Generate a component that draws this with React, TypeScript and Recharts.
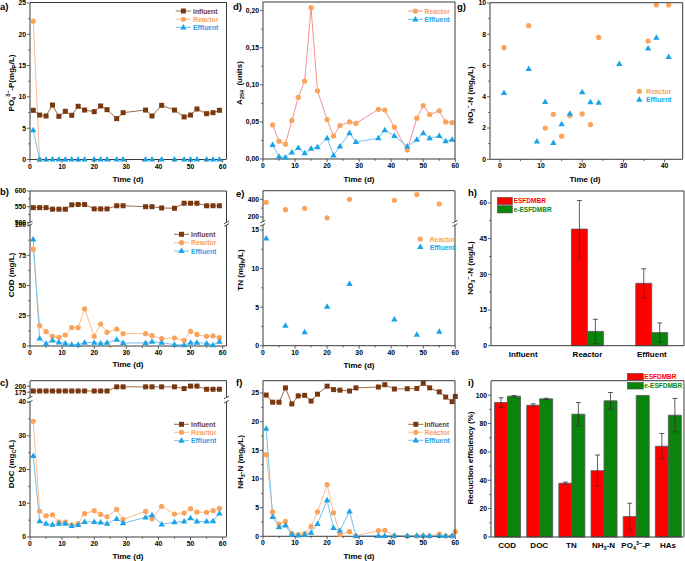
import React from 'react';
import { LineChart, Line, XAxis, YAxis, BarChart, Bar, ErrorBar } from 'recharts';

// ---------------- DATA ----------------
const DAYS = [1, 3, 5, 7, 9, 11, 13, 15, 17, 20, 22, 24, 27, 29, 36, 38, 41, 45, 48, 50, 52, 55, 57, 59];
const DAYS_D = [3, 5, 7, 9, 11, 13, 15, 17, 20, 22, 24, 27, 29, 36, 38, 41, 45, 48, 50, 52, 55, 57, 59];
const DAYS_F = [1, 3, 5, 7, 9, 11, 13, 15, 17, 20, 22, 24, 27, 29, 36, 38, 41, 45, 48, 50, 52, 55, 57, 59, 60];
const DAYS_REA_A = [1, 3];
const DAYS_TN = [1, 7, 13, 20, 27, 41, 48, 55];
const DAYS_G_REA = [1, 7, 11, 13, 15, 17, 20, 22, 24, 36, 38, 41];
const DAYS_G_EFF = [1, 7, 9, 11, 13, 15, 17, 20, 22, 24, 29, 36, 38, 41];

// a) PO4-P
const PO4_INF = [7.86, 7.1, 6.95, 8.7, 6.9, 7.7, 7.06, 8.5, 7.9, 7.64, 8.55, 7.96, 6.53, 7.48, 7.9, 6.95, 8.65, 7.9, 6.8, 7.1, 8.07, 7.32, 7.48, 7.86];
const PO4_REA = [22.1, 0];
const PO4_EFF = [4.7, 0, 0, 0, 0, 0, 0, 0, 0, 0, 0, 0, 0, 0, 0, 0, 0, 0, 0, 0, 0, 0, 0, 0];
// b) COD
const COD_INF = [547, 547, 547, 542, 542, 542, 556, 557, 557, 543, 543, 543, 553, 553, 550, 550, 546, 545, 561, 561, 561, 553, 553, 553];
const COD_REA = [80, 16.8, 11.8, 8, 7.2, 9.1, 15.2, 15.2, 30.6, 8, 18.2, 11.3, 14, 10.2, 10.2, 8.5, 6.1, 6.6, 4.7, 12.1, 9.6, 8, 8.3, 6.9];
const COD_EFF = [88, 6.3, 1.9, 4.7, 3, 2.2, 1.1, 1.1, 2.8, 2.8, 2.2, 2.8, 5.2, 2.5, 2.5, 3.6, 2.8, 1.1, 0.8, 2.8, 2.8, 2.2, 0.8, 3.6];
// c) DOC
const DOC_INF = [180, 180, 180, 180, 180, 180, 180, 180, 180, 180, 180, 180, 197, 197, 197, 197, 197, 197, 190, 200, 200, 187, 187, 187];
const DOC_REA = [34.3, 7.7, 6.3, 6.6, 4.4, 4.4, 3.6, 4.0, 6.9, 7.8, 6.7, 6.0, 8.2, 5.2, 7.6, 5.4, 9.1, 6.8, 7.1, 8.4, 7.4, 7.3, 7.8, 8.5];
const DOC_EFF = [24.0, 4.7, 3.95, 3.65, 3.95, 3.95, 3.26, 3.56, 4.5, 4.5, 4.35, 3.95, 5.4, 4.1, 5.8, 6.5, 3.75, 4.4, 4.6, 5.6, 4.6, 4.6, 4.7, 7.0];
// d) A254
const A254_REA = [0.046, 0.024, 0.020, 0.052, 0.083, 0.105, 0.204, 0.092, 0.053, 0.031, 0.045, 0.050, 0.048, 0.067, 0.066, 0.043, 0.012, 0.055, 0.072, 0.060, 0.065, 0.050, 0.049];
const A254_EFF = [0.019, 0.003, 0.002, 0.009, 0.015, 0.008, 0.014, 0.016, 0.028, 0.005, 0.017, 0.035, 0.023, 0.028, 0.039, 0.031, 0.017, 0.026, 0.035, 0.028, 0.031, 0.024, 0.026];
// e) TN
const TN_REA = [366, 283, 298, 190, 400, 389, 453, 347];
const TN_EFF = [13.9, 2.6, 1.77, 5.06, 8.0, 3.4, 1.43, 1.82];
// f) NH3-N
const NH3_INF = [24.65, 23.4, 23.4, 25.9, 23.1, 24.5, 24.6, 23.6, 24.8, 26.2, 25.6, 25.5, 25.35, 25.9, 26.05, 26.45, 25.7, 25.75, 25.8, 26.7, 25.9, 25.2, 24.3, 23.5, 24.4];
const NH3_REA = [14.25, 4.25, 2.15, 2.6, 0.45, 0.3, 0.45, 1.7, 4.25, 9.0, 4.1, 0.3, 0.8, 0.05, 1.0, 1.05, 0.05, 0, 0.05, 0.05, 0.05, 0.4, 0.05, 0.05, 0.8];
const NH3_EFF = [18.8, 3.4, 1.6, 1.9, 0.35, 0.15, 0.3, 0.65, 2.15, 6.3, 1.45, 1.0, 4.35, 0.05, 0.05, 0.05, 0.1, 0.05, 0.1, 0.1, 0.05, 0.05, 0.05, 0.05];
// g) NO3-N
const NO3_REA = [7.14, 8.55, 2.0, 2.88, 1.48, 2.8, 2.9, 2.22, 7.8, 7.57, 9.88, 9.87];
const NO3_EFF = [4.25, 5.78, 1.15, 3.68, 1.05, 2.25, 2.92, 4.3, 3.65, 3.63, 6.1, 7.1, 7.78, 6.55];
// h) NO3-N bars
const H_CATS = ['Influent', 'Reactor', 'Effluent'];
const H_ES = [null, 49.0, 26.2];
const H_ES_ERR = [null, 12.0, 6.1];
const H_EES = [null, 6.0, 5.5];
const H_EES_ERR = [null, 5.1, 4.05];
// i) Reduction efficiency
const I_CATS = ['COD', 'DOC', 'TN', 'NH3-N', 'PO4-P', 'HAs'];
const I_ES = [94.8, 92.9, 37.9, 46.8, 14.4, 64.0];
const I_ES_ERR = [3.4, 1.0, 0.8, 11.0, 9.4, 9.0];
const I_EES = [99.3, 97.4, 86.6, 96.0, 99.8, 85.9];
const I_EES_ERR = [0.5, 0.5, 8.2, 5.9, null, 11.8];

// ---------------- STYLE ----------------
const FONT = '"Liberation Sans", Arial, Helvetica, sans-serif';
const AX = '#3a3a3a';
const BROWN = '#7a3810';
const BROWN_LINE = '#a06a48';
const ORANGE = '#f9a35b';
const ORANGE_LINE = '#fbbc90';
const PINK_LINE = '#f69090';
const BLUE = '#1ba3e8';
const BLUE_LINE = '#72c3ee';
const RED = '#ff0000';
const GREEN = '#0a840a';
const TICK_FS = 6.8;

type Seg = [string, string?];

const pts = (xs: number[], ys: number[]) => xs.map((x, i) => ({ x, y: ys[i] }));

function markerShape(kind: string, color: string, cx: number, cy: number, key: any) {
  if (kind === 'sq') return <rect key={key} x={cx - 2.5} y={cy - 2.5} width={5} height={5} fill={color} />;
  if (kind === 'ci') return <circle key={key} cx={cx} cy={cy} r={2.6} fill={color} />;
  return <path key={key} d={`M${cx},${cy - 3.4}L${cx + 3.2},${cy + 2.1}L${cx - 3.2},${cy + 2.1}Z`} fill={color} />;
}

const dotFn = (kind: string, color: string) => (p: any) => {
  const k = `d${p.index}`;
  if (p.cx == null || p.cy == null || isNaN(p.cx) || isNaN(p.cy)) return <g key={k} />;
  return markerShape(kind, color, p.cx, p.cy, k);
};

function RText({ segs, x, y, size = 8, rotate = false, anchor = 'middle', fill = '#000' }: any) {
  let cur = 0;
  const spans = (segs as Seg[]).map(([t, k], i) => {
    const target = k === 'sub' ? size * 0.3 : k === 'sup' ? -size * 0.4 : 0;
    const dy = target - cur;
    cur = target;
    return (
      <tspan key={i} dy={dy} fontSize={k ? size * 0.68 : size}>
        {t}
      </tspan>
    );
  });
  return (
    <text
      x={rotate ? 0 : x}
      y={rotate ? 0 : y}
      transform={rotate ? `translate(${x},${y}) rotate(-90)` : undefined}
      textAnchor={anchor}
      fontSize={size}
      fontWeight="bold"
      fontFamily={FONT}
      fill={fill}
      style={{ whiteSpace: 'pre' }}
    >
      {spans}
    </text>
  );
}

interface SeriesDef {
  name: string;
  data: { x: number; y: number | null }[];
  marker: string;
  color: string;
  line?: string;
}

const W_Y = 30;
const MT = 6;
const MR = 8;

function TimePanel(props: any) {
  const { L, T, R, B, xDom, xMajor, xMinor = [], yDom, yMajor, yMinor = [], series, showX = true, yFmt = (v: number) => String(v) } = props;
  const HX = showX ? 18 : 0;
  const MB = showX ? 0 : 3;
  const left = L - W_Y;
  const top = T - MT;
  const width = R - L + W_Y + MR;
  const height = B - T + MT + HX + MB;
  const axisY = B - top;
  const xMaj = new Set(xMajor);
  const yMaj = new Set(yMajor);
  const XTick = (p: any) => {
    const v = p.payload.value;
    const major = xMaj.has(v);
    return (
      <g key={`xt${v}`}>
        <line x1={p.x} x2={p.x} y1={axisY} y2={axisY + (major ? 3 : 1.8)} stroke={AX} strokeWidth={0.8} />
        {major && (
          <text x={p.x} y={axisY + 9} textAnchor="middle" fontSize={TICK_FS} fontWeight="bold" fontFamily={FONT} fill="#000">
            {v}
          </text>
        )}
      </g>
    );
  };
  const YTick = (p: any) => {
    const v = p.payload.value;
    const major = yMaj.has(v);
    return (
      <g key={`yt${v}`}>
        <line x1={W_Y - (major ? 3 : 1.8)} x2={W_Y} y1={p.y} y2={p.y} stroke={AX} strokeWidth={0.8} />
        {major && (
          <text x={W_Y - 4} y={p.y + 2.4} textAnchor="end" fontSize={TICK_FS} fontWeight="bold" fontFamily={FONT} fill="#000">
            {yFmt(v)}
          </text>
        )}
      </g>
    );
  };
  const xTicks = [...xMajor, ...xMinor].sort((a: number, b: number) => a - b);
  const yTicks = [...yMajor, ...yMinor].sort((a: number, b: number) => a - b);
  return (
    <div style={{ position: 'absolute', left, top, width, height }}>
      <LineChart width={width} height={height} margin={{ top: MT, right: MR, left: 0, bottom: MB }}>
        <XAxis
          type="number"
          dataKey="x"
          domain={xDom}
          ticks={xTicks}
          interval={0}
          hide={!showX}
          height={HX}
          tick={XTick}
          tickLine={false}
          tickSize={0}
          axisLine={{ stroke: AX, strokeWidth: 1 }}
        />
        <YAxis
          type="number"
          domain={yDom}
          ticks={yTicks}
          interval={0}
          width={W_Y}
          tick={YTick}
          tickLine={false}
          tickSize={0}
          axisLine={{ stroke: AX, strokeWidth: 1 }}
        />
        {(series as SeriesDef[]).map((s) => (
          <Line
            key={s.name}
            name={s.name}
            data={s.data}
            dataKey="y"
            stroke={s.line ?? 'none'}
            strokeWidth={1}
            dot={dotFn(s.marker, s.color)}
            activeDot={false}
            isAnimationActive={false}
          />
        ))}
      </LineChart>
    </div>
  );
}

const CAT_SEGS: Record<string, Seg[]> = {
  'NH3-N': [['NH'], ['3', 'sub'], ['-N']],
  'PO4-P': [['PO'], ['4', 'sub'], ['3\u2212', 'sup'], ['-P']],
};

function BarPanel(props: any) {
  const { L, T, R, B, data, yDom, yMajor, yMinor = [], gap } = props;
  const HX = 18;
  const left = L - W_Y;
  const top = T - MT;
  const width = R - L + W_Y + 1;
  const height = B - T + MT + HX;
  const axisY = B - top;
  const yMaj = new Set(yMajor);
  const XTick = (p: any) => {
    const v = p.payload.value;
    const segs = CAT_SEGS[v] ?? [[v]];
    return (
      <g key={`xt${v}`}>
        <RText segs={segs} x={p.x} y={axisY + 11} size={8} />
      </g>
    );
  };
  const YTick = (p: any) => {
    const v = p.payload.value;
    const major = yMaj.has(v);
    return (
      <g key={`yt${v}`}>
        <line x1={W_Y - (major ? 3 : 1.8)} x2={W_Y} y1={p.y} y2={p.y} stroke={AX} strokeWidth={0.8} />
        {major && (
          <text x={W_Y - 4} y={p.y + 2.4} textAnchor="end" fontSize={TICK_FS} fontWeight="bold" fontFamily={FONT} fill="#000">
            {v}
          </text>
        )}
      </g>
    );
  };
  const yTicks = [...yMajor, ...yMinor].sort((a: number, b: number) => a - b);
  return (
    <div style={{ position: 'absolute', left, top, width, height }}>
      <BarChart width={width} height={height} data={data} margin={{ top: MT, right: 1, left: 0, bottom: 0 }} barCategoryGap={gap} barGap={0}>
        <XAxis dataKey="c" type="category" interval={0} height={HX} tick={XTick} tickLine={false} tickSize={0} axisLine={{ stroke: AX, strokeWidth: 1 }} />
        <YAxis type="number" domain={yDom} ticks={yTicks} interval={0} width={W_Y} tick={YTick} tickLine={false} tickSize={0} axisLine={{ stroke: AX, strokeWidth: 1 }} />
        <Bar dataKey="es" name="ESFDMBR" fill={RED} stroke="#555" strokeWidth={0.8} isAnimationActive={false}>
          <ErrorBar dataKey="esErr" width={2.5} stroke="#333" strokeWidth={0.8} />
        </Bar>
        <Bar dataKey="ees" name="e-ESFDMBR" fill={GREEN} stroke="#555" strokeWidth={0.8} isAnimationActive={false}>
          <ErrorBar dataKey="eesErr" width={2.5} stroke="#333" strokeWidth={0.8} />
        </Bar>
      </BarChart>
    </div>
  );
}

const X10 = [0, 10, 20, 30, 40, 50, 60];
const X5 = [5, 15, 25, 35, 45, 55];

const inf = (xs: number[], ys: number[]): SeriesDef => ({ name: 'Influent', data: pts(xs, ys), marker: 'sq', color: BROWN, line: BROWN_LINE });
const rea = (xs: number[], ys: number[], line: string | undefined = ORANGE_LINE): SeriesDef => ({ name: 'Reactor', data: pts(xs, ys), marker: 'ci', color: ORANGE, line });
const eff = (xs: number[], ys: number[], line: string | undefined = BLUE_LINE): SeriesDef => ({ name: 'Effluent', data: pts(xs, ys), marker: 'tr', color: BLUE, line });

const hData = H_CATS.map((c, i) => ({ c, es: H_ES[i], esErr: H_ES_ERR[i], ees: H_EES[i], eesErr: H_EES_ERR[i] }));
const iData = I_CATS.map((c, i) => ({ c, es: I_ES[i], esErr: I_ES_ERR[i], ees: I_EES[i], eesErr: I_EES_ERR[i] }));

function LineLegend({ items, x1, x2, tx, ys, lines = true }: any) {
  return (
    <g>
      {items.map((it: any, i: number) => (
        <g key={it.name}>
          {lines && <line x1={x1} x2={x2} y1={ys[i]} y2={ys[i]} stroke={it.line} strokeWidth={1} />}
          {markerShape(it.marker, it.color, (x1 + x2) / 2, ys[i], 'm')}
          <text x={tx} y={ys[i] + 2.5} fontSize={6.8} fontWeight="bold" fontFamily={FONT} fill={it.color}>
            {it.name}
          </text>
        </g>
      ))}
    </g>
  );
}

function BarLegend({ x1, x2, ys, h, tx }: any) {
  const items = [
    { name: 'ESFDMBR', color: RED },
    { name: 'e-ESFDMBR', color: GREEN },
  ];
  return (
    <g>
      {items.map((it, i) => (
        <g key={it.name}>
          <rect x={x1} y={ys[i] - h / 2} width={x2 - x1} height={h} fill={it.color} stroke="#555" strokeWidth={0.6} />
          <text x={tx} y={ys[i] + 2.3} fontSize={6.5} fontWeight="bold" fontFamily={FONT} fill={it.color}>
            {it.name}
          </text>
        </g>
      ))}
    </g>
  );
}

const LEG_INF = { name: 'Influent', color: BROWN, line: BROWN_LINE, marker: 'sq' };
const LEG_REA = { name: 'Reactor', color: ORANGE, line: ORANGE_LINE, marker: 'ci' };
const LEG_REA_D = { name: 'Reactor', color: ORANGE, line: PINK_LINE, marker: 'ci' };
const LEG_EFF = { name: 'Effluent', color: BLUE, line: BLUE_LINE, marker: 'tr' };

function Frame({ L, T, R, B, top = true }: any) {
  return (
    <g stroke={AX} strokeWidth={1}>
      {top && <line x1={L} x2={R} y1={T} y2={T} />}
      <line x1={R} x2={R} y1={T} y2={B} />
    </g>
  );
}

function BreakMarks({ L, R, y1, y2 }: any) {
  const m = (x: number, y: number, k: string) => <line key={k} x1={x - 2.5} y1={y + 1.3} x2={x + 2.5} y2={y - 1.3} stroke={AX} strokeWidth={0.9} />;
  return <g>{[m(L, y1, 'a'), m(L, y2, 'b'), m(R, y1, 'c'), m(R, y2, 'd')]}</g>;
}

export default function App() {
  const comma = (v: number) => v.toFixed(2).replace('.', ',');
  return (
    <div style={{ position: 'absolute', left: 0, top: 0, width: 685, height: 561, background: '#fff', overflow: 'hidden' }}>
      {/* a) */}
      <TimePanel L={30} T={2.5} R={226.5} B={159} xDom={[0, 61.2]} xMajor={X10} xMinor={X5}
        yDom={[0, 25]} yMajor={[0, 5, 10, 15, 20, 25]} yMinor={[2.5, 7.5, 12.5, 17.5, 22.5]}
        series={[inf(DAYS, PO4_INF), rea(DAYS_REA_A, PO4_REA), eff(DAYS, PO4_EFF)]} />
      {/* b) upper */}
      <TimePanel L={30} T={191} R={226.5} B={222.4} xDom={[0, 61.2]} xMajor={X10} xMinor={X5} showX={false}
        yDom={[500, 600]} yMajor={[500, 550, 600]} yMinor={[525, 575]}
        series={[inf(DAYS, COD_INF)]} />
      {/* b) lower */}
      <TimePanel L={30} T={225} R={226.5} B={346} xDom={[0, 61.2]} xMajor={X10} xMinor={X5}
        yDom={[0, 100]} yMajor={[0, 25, 50, 75, 100]} yMinor={[12.5, 37.5, 62.5, 87.5]}
        series={[rea(DAYS, COD_REA), eff(DAYS, COD_EFF)]} />
      {/* c) upper */}
      <TimePanel L={30} T={380.7} R={226.5} B={397.5} xDom={[0, 61.2]} xMajor={X10} xMinor={X5} showX={false}
        yDom={[152, 221]} yMajor={[175, 200]} yMinor={[]}
        series={[inf(DAYS, DOC_INF)]} />
      {/* c) lower */}
      <TimePanel L={30} T={401.7} R={226.5} B={536.7} xDom={[0, 61.2]} xMajor={X10} xMinor={X5}
        yDom={[0, 40]} yMajor={[0, 10, 20, 30, 40]} yMinor={[5, 15, 25, 35]}
        series={[rea(DAYS, DOC_REA), eff(DAYS, DOC_EFF)]} />
      {/* d) */}
      <TimePanel L={262.7} T={2} R={455} B={159} xDom={[0, 60]} xMajor={X10} xMinor={X5}
        yDom={[0, 0.2117]} yMajor={[0, 0.05, 0.1, 0.15, 0.2]} yMinor={[0.025, 0.075, 0.125, 0.175]} yFmt={comma}
        series={[rea(DAYS_D, A254_REA, PINK_LINE), eff(DAYS_D, A254_EFF)]} />
      {/* e) upper */}
      <TimePanel L={262.7} T={190.7} R={455} B={221.7} xDom={[0, 60]} xMajor={X10} xMinor={X5} showX={false}
        yDom={[143, 494]} yMajor={[200, 400]} yMinor={[300]}
        series={[{ ...rea(DAYS_TN, TN_REA), line: undefined }]} />
      {/* e) lower */}
      <TimePanel L={262.7} T={225} R={455} B={345.7} xDom={[0, 60]} xMajor={X10} xMinor={X5}
        yDom={[0, 15.65]} yMajor={[0, 5, 10, 15]} yMinor={[2.5, 7.5, 12.5]}
        series={[{ ...eff(DAYS_TN, TN_EFF), line: undefined }]} />
      {/* f) */}
      <TimePanel L={262.7} T={380.7} R={455} B={536} xDom={[0, 60]} xMajor={X10} xMinor={X5}
        yDom={[0, 27.1]} yMajor={[0, 5, 10, 15, 20, 25]} yMinor={[2.5, 7.5, 12.5, 17.5, 22.5]}
        series={[inf(DAYS_F, NH3_INF), rea(DAYS_F, NH3_REA), eff(DAYS, NH3_EFF)]} />
      {/* g) */}
      <TimePanel L={490} T={2.7} R={682.7} B={159} xDom={[-2.4, 44.4]} xMajor={[0, 10, 20, 30, 40]} xMinor={[5, 15, 25, 35]}
        yDom={[0, 10]} yMajor={[0, 2, 4, 6, 8, 10]} yMinor={[1, 3, 5, 7, 9]}
        series={[{ ...rea(DAYS_G_REA, NO3_REA), line: undefined }, { ...eff(DAYS_G_EFF, NO3_EFF), line: undefined }]} />
      {/* h) */}
      <BarPanel L={491} T={191} R={684} B={345.7} data={hData} yDom={[0, 65]} yMajor={[0, 15, 30, 45, 60]} yMinor={[7.5, 22.5, 37.5, 52.5]} gap="25%" />
      {/* i) */}
      <BarPanel L={491} T={380.7} R={684} B={536.7} data={iData} yDom={[0, 110]} yMajor={[0, 20, 40, 60, 80, 100]} yMinor={[10, 30, 50, 70, 90]} gap="11%" />

      <svg width={685} height={561} style={{ position: 'absolute', left: 0, top: 0, pointerEvents: 'none' }}>
        {/* frames */}
        <Frame L={30} T={2.5} R={226.5} B={159} />
        <Frame L={30} T={191} R={226.5} B={222.4} />
        <Frame L={30} T={225} R={226.5} B={346} top={false} />
        <Frame L={30} T={380.7} R={226.5} B={397.5} />
        <Frame L={30} T={401.7} R={226.5} B={536.7} top={false} />
        <Frame L={262.7} T={2} R={455} B={159} />
        <Frame L={262.7} T={190.7} R={455} B={221.7} />
        <Frame L={262.7} T={225} R={455} B={345.7} top={false} />
        <Frame L={262.7} T={380.7} R={455} B={536} />
        <Frame L={490} T={2.7} R={682.7} B={159} />
        <Frame L={491} T={191} R={684} B={345.7} />
        <Frame L={491} T={380.7} R={684} B={536.7} />
        <BreakMarks L={30} R={226.5} y1={222.4} y2={225} />
        <BreakMarks L={30} R={226.5} y1={397.5} y2={401.7} />
        <BreakMarks L={262.7} R={455} y1={221.7} y2={225} />

        {/* panel letters */}
        {[
          ['a)', 0, 10], ['b)', 0, 195], ['c)', 0, 385.5], ['d)', 233, 10], ['e)', 236, 197],
          ['f)', 236, 385.5], ['g)', 457, 9.5], ['h)', 468, 196], ['i)', 468, 385.5],
        ].map(([t, x, y]) => (
          <text key={t as string} x={x as number} y={y as number} fontSize={9.5} fontWeight="bold" fontFamily={FONT} fill="#000">
            {t}
          </text>
        ))}

        {/* y titles */}
        <RText rotate x={13.5} y={83} segs={[['PO'], ['4', 'sub'], ['3\u2212', 'sup'], ['-P(mg'], ['P', 'sub'], ['/L)']]} />
        <RText rotate x={13.5} y={275} segs={[['COD (mg/L)']]} />
        <RText rotate x={13.5} y={464} segs={[['DOC (mg'], ['C', 'sub'], ['/L)']]} />
        <RText rotate x={242} y={83} segs={[['A'], ['254', 'sub'], ['  (units)']]} />
        <RText rotate x={243} y={270} segs={[['TN (mg'], ['N', 'sub'], ['/L)']]} />
        <RText rotate x={243} y={462} segs={[['NH'], ['3', 'sub'], ['-N (mg'], ['N', 'sub'], ['/L)']]} />
        <RText rotate x={473} y={95} segs={[['NO'], ['3', 'sub'], ['\u2212', 'sup'], ['-N (mg'], ['N', 'sub'], ['/L)']]} />
        <RText rotate x={473} y={268} segs={[['NO'], ['3', 'sub'], ['\u2212', 'sup'], ['-N (mg/L)']]} />
        <RText rotate x={473} y={458} segs={[['Reduction efficiency (%)']]} />

        {/* x titles */}
        <RText x={128} y={181.5} segs={[['Time (d)']]} />
        <RText x={128} y={366.5} segs={[['Time (d)']]} />
        <RText x={128} y={559} segs={[['Time (d)']]} />
        <RText x={359} y={181.5} segs={[['Time (d)']]} />
        <RText x={359} y={368} segs={[['Time (d)']]} />
        <RText x={359} y={559} segs={[['Time (d)']]} />
        <RText x={585} y={182} segs={[['Time (d)']]} />

        {/* legends */}
        <LineLegend items={[LEG_INF, LEG_REA, LEG_EFF]} x1={175.7} x2={191} tx={193} ys={[11, 19.3, 27.3]} />
        <LineLegend items={[LEG_INF, LEG_REA, LEG_EFF]} x1={174} x2={189} tx={191} ys={[234.3, 242.7, 251]} />
        <LineLegend items={[LEG_INF, LEG_REA, LEG_EFF]} x1={174} x2={189} tx={191} ys={[424.3, 432.3, 440.7]} />
        <LineLegend items={[LEG_REA_D, LEG_EFF]} x1={407.7} x2={423} tx={424.5} ys={[11, 19.3]} />
        <LineLegend items={[LEG_REA, LEG_EFF]} x1={420.3} x2={420.3} tx={429.7} ys={[239, 247]} lines={false} />
        <LineLegend items={[LEG_INF, LEG_REA, LEG_EFF]} x1={408.3} x2={423.3} tx={424.5} ys={[424.3, 432.3, 440.3]} />
        <LineLegend items={[LEG_REA, LEG_EFF]} x1={639.3} x2={639.3} tx={646} ys={[91.3, 99.7]} lines={false} />
        <BarLegend x1={497.3} x2={512.3} ys={[201, 209.3]} h={7.3} tx={513.7} />
        <BarLegend x1={627.3} x2={643.3} ys={[376.7, 385.7]} h={6.7} tx={644.3} />
      </svg>
    </div>
  );
}
